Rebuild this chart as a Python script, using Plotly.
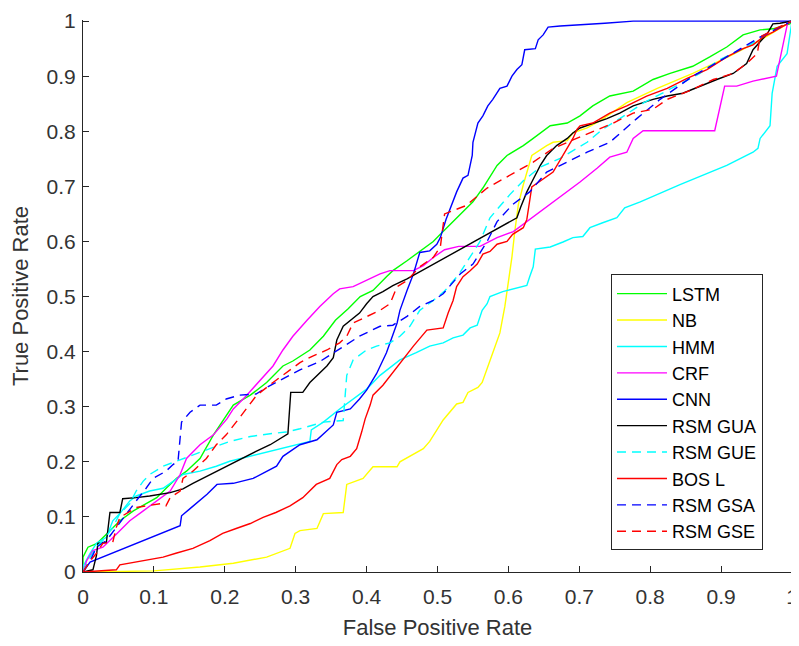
import plotly.graph_objects as go

# ---------------- data ----------------
series_names = ["LSTM", "NB", "HMM", "CRF", "CNN", "RSM GUA", "RSM GUE", "BOS L", "RSM GSA", "RSM GSE"]
series_colors = ["#00ff00", "#ffff00", "#00ffff", "#ff00ff", "#0000ff", "#000000", "#00ffff", "#ff0000", "#0000ff", "#ff0000"]
series_dash = ["solid", "solid", "solid", "solid", "solid", "solid", "9px,6px", "solid", "9px,6px", "9px,6px"]

lstm_fpr = [0, 0, 0.007, 0.02, 0.038, 0.052, 0.071, 0.09, 0.104, 0.118, 0.132, 0.146, 0.165, 0.184, 0.203, 0.212, 0.236, 0.259, 0.282, 0.296, 0.32, 0.339, 0.356, 0.374, 0.391, 0.409, 0.428, 0.437, 0.457, 0.475, 0.494, 0.504, 0.532, 0.55, 0.564, 0.584, 0.598, 0.621, 0.635, 0.659, 0.683, 0.701, 0.719, 0.743, 0.776, 0.804, 0.828, 0.86, 0.884, 0.908, 0.931, 0.955, 0.973, 0.997, 1]
lstm_tpr = [0, 0.027, 0.045, 0.052, 0.075, 0.093, 0.111, 0.124, 0.135, 0.153, 0.17, 0.183, 0.206, 0.249, 0.285, 0.303, 0.321, 0.344, 0.374, 0.383, 0.403, 0.428, 0.457, 0.478, 0.5, 0.511, 0.536, 0.547, 0.565, 0.582, 0.6, 0.613, 0.649, 0.672, 0.697, 0.738, 0.756, 0.774, 0.787, 0.81, 0.815, 0.828, 0.846, 0.864, 0.873, 0.894, 0.905, 0.918, 0.935, 0.953, 0.975, 0.984, 0.986, 0.995, 1]

nb_fpr = [0, 0.1, 0.165, 0.212, 0.259, 0.273, 0.292, 0.299, 0.306, 0.33, 0.339, 0.367, 0.372, 0.395, 0.409, 0.443, 0.447, 0.48, 0.489, 0.508, 0.527, 0.536, 0.543, 0.557, 0.563, 0.578, 0.588, 0.595, 0.599, 0.605, 0.609, 0.612, 0.614, 0.621, 0.633, 0.654, 0.663, 0.683, 0.691, 0.711, 0.729, 0.767, 0.81, 0.86, 0.91, 0.955, 0.98, 1]
nb_tpr = [0, 0.002, 0.009, 0.016, 0.027, 0.034, 0.043, 0.07, 0.075, 0.079, 0.106, 0.108, 0.159, 0.17, 0.191, 0.191, 0.2, 0.224, 0.237, 0.276, 0.305, 0.308, 0.326, 0.335, 0.344, 0.398, 0.434, 0.482, 0.518, 0.572, 0.618, 0.643, 0.667, 0.703, 0.756, 0.774, 0.78, 0.783, 0.797, 0.806, 0.819, 0.852, 0.878, 0.905, 0.935, 0.965, 0.985, 1]

hmm_fpr = [0, 0, 0.01, 0.019, 0.033, 0.042, 0.052, 0.066, 0.075, 0.094, 0.113, 0.141, 0.165, 0.188, 0.207, 0.236, 0.264, 0.292, 0.32, 0.322, 0.339, 0.362, 0.381, 0.4, 0.419, 0.447, 0.47, 0.489, 0.508, 0.522, 0.536, 0.546, 0.556, 0.56, 0.563, 0.57, 0.574, 0.592, 0.606, 0.626, 0.63, 0.635, 0.638, 0.659, 0.677, 0.691, 0.705, 0.715, 0.733, 0.753, 0.764, 0.786, 0.842, 0.908, 0.945, 0.952, 0.955, 0.969, 0.972, 0.979, 0.993, 1]
hmm_tpr = [0, 0.01, 0.034, 0.052, 0.063, 0.093, 0.106, 0.129, 0.138, 0.147, 0.152, 0.177, 0.183, 0.192, 0.201, 0.21, 0.219, 0.228, 0.237, 0.258, 0.272, 0.296, 0.314, 0.332, 0.357, 0.385, 0.398, 0.41, 0.416, 0.425, 0.43, 0.443, 0.448, 0.464, 0.475, 0.487, 0.5, 0.509, 0.514, 0.52, 0.536, 0.554, 0.586, 0.59, 0.599, 0.607, 0.609, 0.625, 0.634, 0.643, 0.661, 0.672, 0.703, 0.738, 0.762, 0.769, 0.787, 0.81, 0.869, 0.918, 0.941, 1]

crf_fpr = [0, 0.005, 0.014, 0.028, 0.048, 0.066, 0.085, 0.104, 0.123, 0.137, 0.146, 0.165, 0.184, 0.203, 0.212, 0.231, 0.25, 0.268, 0.282, 0.296, 0.316, 0.334, 0.353, 0.362, 0.381, 0.4, 0.419, 0.433, 0.466, 0.48, 0.494, 0.51, 0.53, 0.56, 0.584, 0.607, 0.626, 0.645, 0.663, 0.683, 0.701, 0.725, 0.743, 0.767, 0.776, 0.79, 0.891, 0.905, 0.922, 0.945, 0.978, 0.994, 1]
crf_tpr = [0, 0.02, 0.039, 0.045, 0.07, 0.093, 0.111, 0.129, 0.147, 0.177, 0.206, 0.231, 0.249, 0.278, 0.296, 0.321, 0.349, 0.374, 0.403, 0.428, 0.457, 0.482, 0.505, 0.514, 0.518, 0.529, 0.541, 0.547, 0.547, 0.556, 0.571, 0.585, 0.591, 0.591, 0.607, 0.618, 0.636, 0.654, 0.672, 0.69, 0.708, 0.733, 0.753, 0.762, 0.787, 0.801, 0.801, 0.882, 0.882, 0.891, 0.9, 0.998, 1]

cnn_fpr = [0, 0.01, 0.137, 0.139, 0.151, 0.175, 0.189, 0.212, 0.24, 0.259, 0.273, 0.282, 0.306, 0.33, 0.353, 0.358, 0.377, 0.39, 0.4, 0.414, 0.428, 0.443, 0.447, 0.457, 0.466, 0.475, 0.489, 0.499, 0.504, 0.512, 0.52, 0.527, 0.536, 0.543, 0.549, 0.55, 0.557, 0.564, 0.571, 0.578, 0.588, 0.598, 0.605, 0.612, 0.619, 0.623, 0.638, 0.642, 0.649, 0.656, 0.673, 0.704, 0.736, 0.776, 1]
cnn_tpr = [0, 0.018, 0.084, 0.102, 0.115, 0.141, 0.159, 0.161, 0.17, 0.183, 0.192, 0.21, 0.231, 0.24, 0.267, 0.29, 0.296, 0.314, 0.33, 0.36, 0.398, 0.452, 0.475, 0.511, 0.541, 0.58, 0.583, 0.595, 0.607, 0.64, 0.667, 0.69, 0.715, 0.72, 0.756, 0.78, 0.815, 0.828, 0.846, 0.858, 0.878, 0.882, 0.9, 0.912, 0.921, 0.948, 0.95, 0.966, 0.975, 0.989, 0.991, 0.993, 0.996, 1, 1]

gua_fpr = [0, 0.014, 0.019, 0.021, 0.033, 0.038, 0.052, 0.056, 0.075, 0.094, 0.123, 0.141, 0.155, 0.179, 0.197, 0.221, 0.244, 0.264, 0.289, 0.293, 0.31, 0.32, 0.33, 0.344, 0.353, 0.358, 0.367, 0.377, 0.39, 0.4, 0.409, 0.423, 0.437, 0.457, 0.612, 0.617, 0.626, 0.633, 0.645, 0.654, 0.668, 0.683, 0.691, 0.701, 0.719, 0.739, 0.757, 0.776, 0.804, 0.824, 0.846, 0.87, 0.894, 0.917, 0.936, 0.945, 0.965, 0.973, 0.983, 1]
gua_tpr = [0, 0.004, 0.03, 0.052, 0.054, 0.108, 0.108, 0.133, 0.135, 0.138, 0.144, 0.151, 0.161, 0.177, 0.188, 0.204, 0.219, 0.231, 0.251, 0.326, 0.326, 0.344, 0.357, 0.374, 0.389, 0.421, 0.446, 0.457, 0.47, 0.487, 0.5, 0.509, 0.52, 0.532, 0.643, 0.661, 0.69, 0.708, 0.738, 0.756, 0.774, 0.787, 0.797, 0.806, 0.814, 0.823, 0.833, 0.846, 0.858, 0.864, 0.869, 0.882, 0.894, 0.905, 0.923, 0.948, 0.977, 0.995, 0.996, 1]

gue_fpr = [0, 0.01, 0.019, 0.028, 0.042, 0.052, 0.066, 0.075, 0.085, 0.094, 0.113, 0.131, 0.155, 0.179, 0.207, 0.236, 0.264, 0.286, 0.306, 0.339, 0.367, 0.372, 0.381, 0.4, 0.414, 0.433, 0.447, 0.461, 0.475, 0.494, 0.51, 0.53, 0.55, 0.56, 0.574, 0.588, 0.602, 0.621, 0.645, 0.673, 0.691, 0.711, 0.733, 0.757, 0.79, 0.828, 0.87, 0.898, 0.936, 0.965, 1]
gue_tpr = [0, 0.027, 0.045, 0.057, 0.081, 0.106, 0.124, 0.147, 0.165, 0.177, 0.192, 0.201, 0.213, 0.224, 0.237, 0.246, 0.251, 0.254, 0.26, 0.272, 0.275, 0.357, 0.385, 0.403, 0.41, 0.416, 0.428, 0.446, 0.475, 0.493, 0.51, 0.54, 0.58, 0.6, 0.643, 0.665, 0.685, 0.71, 0.735, 0.751, 0.765, 0.78, 0.804, 0.823, 0.851, 0.876, 0.905, 0.93, 0.953, 0.977, 1]

bosl_fpr = [0, 0.047, 0.052, 0.075, 0.113, 0.131, 0.155, 0.179, 0.197, 0.216, 0.236, 0.254, 0.272, 0.292, 0.31, 0.329, 0.339, 0.348, 0.358, 0.365, 0.377, 0.386, 0.393, 0.398, 0.405, 0.409, 0.423, 0.437, 0.451, 0.466, 0.485, 0.508, 0.515, 0.522, 0.527, 0.536, 0.546, 0.556, 0.564, 0.574, 0.584, 0.598, 0.606, 0.621, 0.626, 0.63, 0.633, 0.663, 0.691, 0.697, 0.701, 0.719, 0.743, 0.767, 0.795, 0.824, 0.852, 0.88, 0.908, 0.931, 0.945, 0.959, 0.973, 1]
bosl_tpr = [0, 0.004, 0.013, 0.018, 0.027, 0.034, 0.043, 0.057, 0.07, 0.079, 0.088, 0.099, 0.108, 0.12, 0.135, 0.159, 0.165, 0.17, 0.195, 0.204, 0.21, 0.224, 0.254, 0.278, 0.303, 0.321, 0.339, 0.362, 0.385, 0.41, 0.439, 0.443, 0.47, 0.493, 0.518, 0.536, 0.547, 0.559, 0.577, 0.582, 0.595, 0.6, 0.613, 0.625, 0.64, 0.67, 0.699, 0.726, 0.787, 0.804, 0.81, 0.815, 0.833, 0.846, 0.864, 0.878, 0.896, 0.912, 0.935, 0.95, 0.957, 0.971, 0.98, 1]

gsa_fpr = [0, 0.01, 0.019, 0.033, 0.047, 0.061, 0.075, 0.089, 0.099, 0.117, 0.127, 0.134, 0.137, 0.139, 0.151, 0.165, 0.188, 0.202, 0.221, 0.244, 0.259, 0.282, 0.306, 0.334, 0.362, 0.39, 0.419, 0.437, 0.457, 0.475, 0.494, 0.508, 0.532, 0.55, 0.57, 0.584, 0.606, 0.63, 0.654, 0.683, 0.711, 0.743, 0.781, 0.814, 0.86, 0.908, 0.955, 1]
gsa_tpr = [0, 0.02, 0.045, 0.057, 0.081, 0.106, 0.129, 0.152, 0.17, 0.183, 0.195, 0.201, 0.237, 0.272, 0.29, 0.303, 0.303, 0.314, 0.321, 0.323, 0.335, 0.35, 0.367, 0.382, 0.405, 0.428, 0.446, 0.448, 0.464, 0.482, 0.493, 0.505, 0.541, 0.559, 0.6, 0.636, 0.667, 0.69, 0.726, 0.744, 0.762, 0.78, 0.823, 0.858, 0.9, 0.935, 0.971, 1]

gse_fpr = [0, 0.01, 0.019, 0.028, 0.042, 0.047, 0.052, 0.061, 0.075, 0.089, 0.109, 0.117, 0.123, 0.137, 0.141, 0.155, 0.174, 0.188, 0.202, 0.216, 0.23, 0.245, 0.268, 0.287, 0.306, 0.324, 0.344, 0.362, 0.372, 0.381, 0.4, 0.419, 0.433, 0.443, 0.457, 0.475, 0.494, 0.504, 0.51, 0.54, 0.57, 0.602, 0.635, 0.663, 0.697, 0.729, 0.748, 0.776, 0.804, 0.824, 0.86, 0.889, 0.917, 0.936, 0.951, 0.955, 0.973, 1]
gse_tpr = [0, 0.02, 0.034, 0.052, 0.054, 0.081, 0.099, 0.106, 0.117, 0.12, 0.124, 0.12, 0.135, 0.147, 0.17, 0.183, 0.206, 0.231, 0.249, 0.272, 0.296, 0.321, 0.344, 0.362, 0.38, 0.392, 0.403, 0.416, 0.428, 0.452, 0.464, 0.475, 0.487, 0.518, 0.529, 0.554, 0.571, 0.59, 0.65, 0.665, 0.697, 0.72, 0.744, 0.769, 0.787, 0.804, 0.815, 0.833, 0.84, 0.858, 0.876, 0.894, 0.905, 0.923, 0.941, 0.971, 0.984, 1]

tick_vals = [0, 0.1, 0.2, 0.3, 0.4, 0.5, 0.6, 0.7, 0.8, 0.9, 1]
tick_text = ["0", "0.1", "0.2", "0.3", "0.4", "0.5", "0.6", "0.7", "0.8", "0.9", "1"]

x_title = "False Positive Rate"
y_title = "True Positive Rate"

# ---------------- figure ----------------
all_fpr = [lstm_fpr, nb_fpr, hmm_fpr, crf_fpr, cnn_fpr, gua_fpr, gue_fpr, bosl_fpr, gsa_fpr, gse_fpr]
all_tpr = [lstm_tpr, nb_tpr, hmm_tpr, crf_tpr, cnn_tpr, gua_tpr, gue_tpr, bosl_tpr, gsa_tpr, gse_tpr]

FONT = "Liberation Sans, Arial, sans-serif"
AX = "#262626"

fig = go.Figure()
for name, color, dash, xs, ys in zip(series_names, series_colors, series_dash, all_fpr, all_tpr):
    fig.add_trace(go.Scatter(
        x=xs, y=ys, mode="lines", name=name,
        line=dict(color=color, width=1.4, dash=dash),
        hoverinfo="skip",
    ))

axis_common = dict(
    showgrid=False, zeroline=False, showline=True, linecolor=AX, linewidth=1,
    ticks="inside", ticklen=6, tickcolor=AX, tickwidth=1,
    tickvals=tick_vals, ticktext=tick_text,
    tickfont=dict(family=FONT, size=21, color="#333333"),
    mirror=False, automargin=False, ticklabeloverflow="allow",
)

# The page body has an 8px default margin, so the figure is sized/margined to compensate.
fig.update_layout(
    width=791, height=638,
    margin=dict(l=75, r=7, t=12, b=74, pad=0),
    paper_bgcolor="white", plot_bgcolor="white",
    font=dict(family=FONT, color=AX),
    xaxis=dict(range=[0, 1], ticklabelstandoff=6,
               title=dict(text=x_title, font=dict(family=FONT, size=22, color="#333333"), standoff=12),
               **axis_common),
    yaxis=dict(range=[0, 1.002], ticklabelstandoff=2,
               title=dict(text=y_title, font=dict(family=FONT, size=22, color="#333333"), standoff=12),
               **axis_common),
    showlegend=True,
    legend=dict(
        x=0.7447, y=0.539, xanchor="left", yanchor="top",
        bgcolor="white", bordercolor=AX, borderwidth=1,
        font=dict(family=FONT, size=18, color="#000000"),
        itemwidth=50, tracegroupgap=0,
    ),
)

fig.write_html("out.html")
